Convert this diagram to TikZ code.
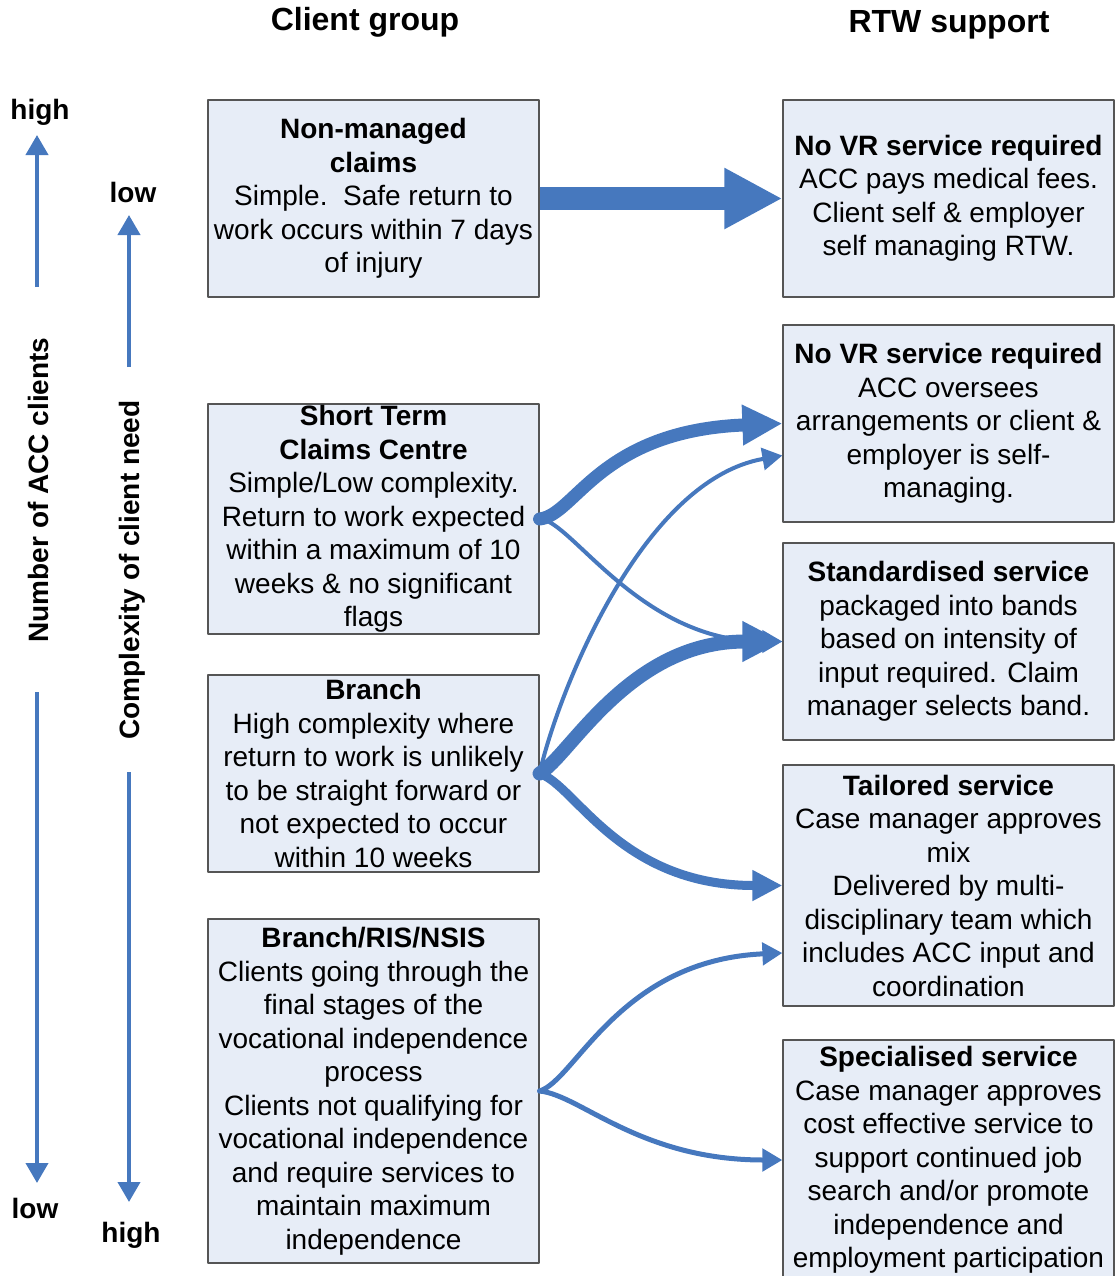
\documentclass[tikz,border=0pt]{standalone}
\usepackage{fontspec}
\setmainfont{Liberation Sans}
\usetikzlibrary{arrows.meta,calc}
\definecolor{flowblue}{RGB}{70,120,190}
\definecolor{boxfill}{RGB}{231,237,247}
\definecolor{boxline}{RGB}{85,85,85}
\begin{document}
\begin{tikzpicture}[x=0.5pt,y=-0.5pt,line join=round,
	font=\fontsize{14}{16.75}\selectfont,
	box/.style={draw=boxline,line width=0.6pt,fill=boxfill,align=center,inner sep=0pt,minimum width=165.5pt},
	lbl/.style={font=\fontsize{14}{16.75}\selectfont\bfseries},
	colhead/.style={font=\fontsize{16}{19}\selectfont\bfseries},
	flow/.style={draw=flowblue,line width=#1},
	tipS/.style={-{Triangle[length=10pt,width=11pt]}},
	tipM/.style={-{Triangle[length=15pt,width=14.5pt]}},
	tipL/.style={-{Triangle[length=20pt,width=19pt]}}]
	\useasboundingbox (0,0) rectangle (1115,1276);
	\clip (0,0) rectangle (1115,1276);
	% headings
	\node[colhead] (cg) at (365,22) {Client group};
	\node[colhead] (rs) at (949,25) {RTW support};
	% side scales
	\node[lbl] at (40,112) {high};
	\node[lbl] at (35,1208) {low};
	\node[lbl] at (133,192) {low};
	\node[lbl] at (131,1235) {high};
	\node[lbl,rotate=90] at (38,490) {Number of ACC clients};
	\node[lbl,rotate=90] at (132,570) {Complexity of client need};
	\coordinate (a1) at (37,287); \coordinate (a2) at (37,135);
	\coordinate (b1) at (37,692); \coordinate (b2) at (37,1183);
	\coordinate (c1) at (129,367); \coordinate (c2) at (129,215);
	\coordinate (d1) at (129,772); \coordinate (d2) at (129,1202);
	\draw[flow=2pt,tipS] (a1)--(a2);
	\draw[flow=2pt,tipS] (b1)--(b2);
	\draw[flow=2pt,tipS] (c1)--(c2);
	\draw[flow=2pt,tipS] (d1)--(d2);
	% client groups
	\node[box,minimum height=98.5pt] (nm) at (373.5,198.5)
		{\textbf{Non-managed}\\\textbf{claims}\\Simple.\ \ Safe return to\\work occurs within 7 days\\of injury};
	\node[box,minimum height=115pt] (st) at (373.5,519)
		{\textbf{Short Term}\\\textbf{Claims Centre}\\Simple/Low complexity.\\Return to work expected\\within a maximum of 10\\weeks \& no significant\\flags};
	\node[box,minimum height=98.5pt] (br) at (373.5,773.5)
		{\textbf{Branch}\\High complexity where\\return to work is unlikely\\to be straight forward or\\not expected to occur\\within 10 weeks};
	\node[box,minimum height=172pt] (ris) at (373.5,1091)
		{\textbf{Branch/RIS/NSIS}\\Clients going through the\\final stages of the\\vocational independence\\process\\Clients not qualifying for\\vocational independence\\and require services to\\maintain maximum\\independence};
	% RTW support
	\node[box,minimum height=98.5pt] (nv1) at (948.5,198.5)
		{\textbf{No VR service required}\\ACC pays medical fees.\\Client self \& employer\\self managing RTW.};
	\node[box,minimum height=98.5pt] (nv2) at (948.5,423.5)
		{\textbf{No VR service required}\\ACC oversees\\arrangements or client \&\\employer is self-\\managing.};
	\node[box,minimum height=98.5pt] (std) at (948.5,641.5)
		{\textbf{Standardised service}\\packaged into bands\\based on intensity of\\input required. Claim\\manager selects band.};
	\node[box,minimum height=120.5pt] (tlr) at (948.5,885.5)
		{\textbf{Tailored service}\\Case manager approves\\mix\\Delivered by multi-\\disciplinary team which\\includes ACC input and\\coordination};
	\node[box,minimum height=120pt] (spc) at (948.5,1160)
		{\textbf{Specialised service}\\Case manager approves\\cost effective service to\\support continued job\\search and/or promote\\independence and\\employment participation};
	% flows
	\draw[flow=11.5pt,-{Triangle[length=29pt,width=28.5pt]}] (nm.east)--(nv1.west);
	\draw[flow=2pt,tipS,line cap=round] (st.east) .. controls +(31,0) and +(-143,0) .. (std.west);
	\draw[flow=2pt,tipS,line cap=round] (br.east) .. controls +(16,-73.5) and +(-143,25) .. ($(nv2.west)+(0,32)$);
	\draw[flow=6.5pt,tipL,line cap=round] (st.east) .. controls +(36,-4) and +(-183,7) .. (nv2.west);
	\draw[flow=7pt,tipL,line cap=round] (br.east) .. controls +(31,-18.5) and +(-153,0) .. (std.west);
	\draw[flow=4.5pt,tipM,line cap=round] (br.east) .. controls +(36,11.5) and +(-163,0) .. (tlr.west);
	\draw[flow=2.5pt,tipS,line cap=round] (ris.east) .. controls +(36,-11) and +(-163,7) .. ($(tlr.west)+(0,67.5)$);
	\draw[flow=2.5pt,tipS,line cap=round] (ris.east) .. controls +(41,4) and +(-143,0) .. (spc.west);
\end{tikzpicture}
\end{document}
